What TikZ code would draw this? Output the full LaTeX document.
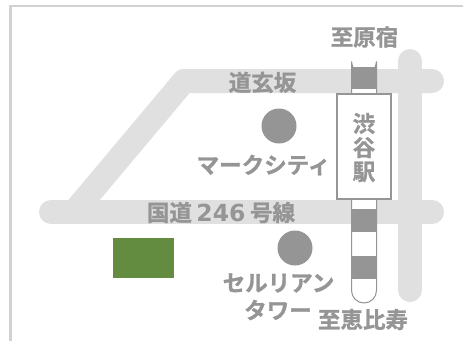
\documentclass[tikz,border=0pt]{standalone}
\usepackage{fontspec}
\newfontfamily\jpfont[FakeBold=1.2]{Noto Sans CJK JP Bold}
\newfontfamily\digitfont{DejaVu Sans}[BoldFont={DejaVu Sans Bold}]
\definecolor{roadgray}{HTML}{E0E0E0}
\definecolor{markgray}{HTML}{959595}
\definecolor{framegray}{HTML}{D2D2D2}
\definecolor{parkgreen}{HTML}{648C41}
\tikzset{
  x=1pt,y=-1pt,
  road/.style={draw=roadgray,line width=24pt,line cap=round,line join=round},
  frameline/.style={draw=framegray,line width=2.5pt},
  label/.style={text=markgray,font=\jpfont\fontsize{22.5}{24}\selectfont,inner sep=0pt,anchor=center},
  bar/.style={fill=markgray,draw=none},
  spot/.style={circle,fill=markgray,draw=none,minimum size=35pt,inner sep=0pt},
  railline/.style={draw=markgray,line width=1pt,fill=white},
  stationbox/.style={draw=markgray,line width=2pt,fill=white,minimum width=54pt,minimum height=105pt,inner sep=0pt,align=center},
}
\begin{document}
\begin{tikzpicture}
\useasboundingbox (0,0) rectangle (473,341);
\fill[white] (0,0) rectangle (473,341);
\coordinate (ftr) at (463,6);
\coordinate (ftl) at (10.5,6);
\coordinate (fbl) at (10.5,341);
\draw[frameline] (ftr) -- (ftl) -- (fbl);
% roads
\coordinate (r1a) at (432,81);
\coordinate (r1b) at (184,81);
\coordinate (r1c) at (74,212);
\coordinate (r2a) at (51,212);
\coordinate (r2b) at (432,212);
\coordinate (r3a) at (410,61);
\coordinate (r3b) at (410,290);
\draw[road] (r1a) -- (r1b) -- (r1c);
\draw[road] (r2a) -- (r2b);
\draw[road] (r3a) -- (r3b);
% railway
\draw[railline] (351.5,61.5) arc[start angle=180,end angle=0,radius=12.5] -- (376.5,290.5) arc[start angle=0,end angle=180,radius=12.5] -- cycle;
\fill[bar] (351,67) rectangle (377,89);
\fill[bar] (351,209) rectangle (377,232);
\fill[bar] (351,256) rectangle (377,279);
\node[stationbox] (station) at (364,146.5) {};
\node[label,align=center] (stationname) at (364,147.5) {渋\\谷\\駅};
% landmarks
\node[spot] (marc) at (279,126) {};
\node[spot] (cerulean) at (295,248) {};
\fill[parkgreen] (113,238) rectangle (174,278);
% labels
\node[label] (harajuku) at (364.5,37) {至原宿};
\node[label] (dogenzaka) at (262.5,82.5) {道玄坂};
\node[label] (marcname) at (263.5,165) {マークシティ};
\node[label] (route) at (221,212.5) {国道\hspace{4.5pt}{\digitfont\bfseries\fontsize{23.5}{24}\selectfont 246}\hspace{4.5pt}号線};
\node[label] (cer1) at (278.5,283) {セルリアン};
\node[label] (cer2) at (278,310) {タワー};
\node[label] (ebisu) at (363,319.5) {至恵比寿};
\end{tikzpicture}
\end{document}
